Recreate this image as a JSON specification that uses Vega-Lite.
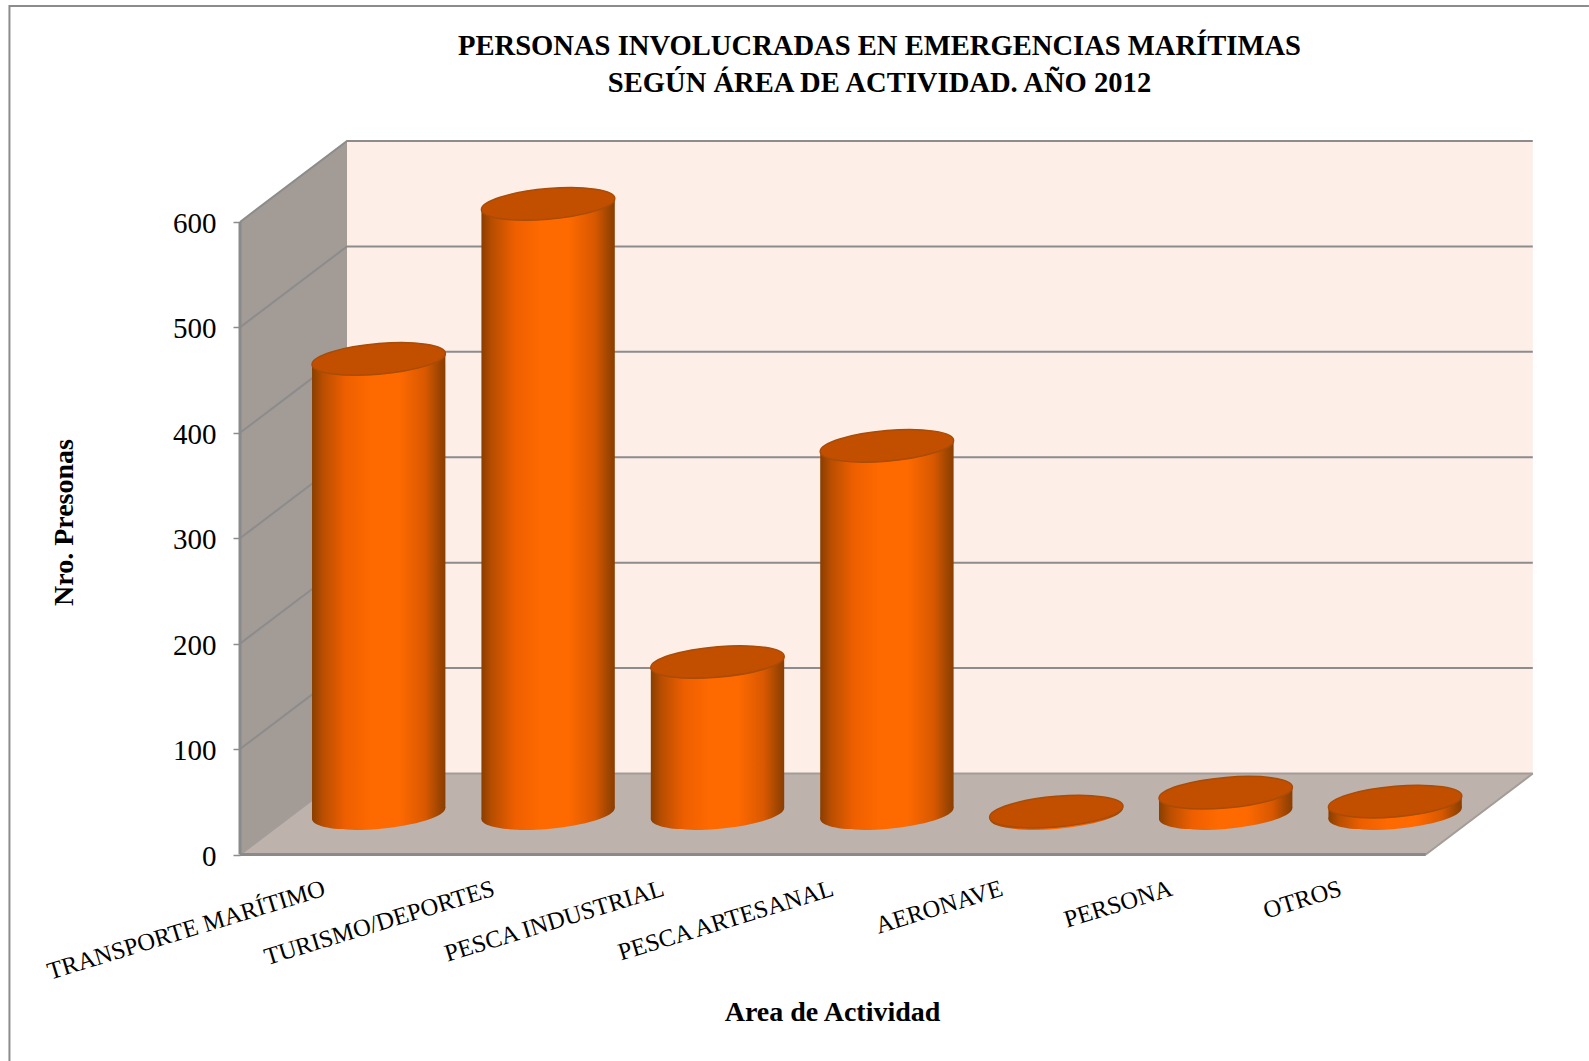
{
"$schema":"https://vega.github.io/schema/vega-lite/v6.json",
"width":1293,"height":713.5,"autosize":"none",
"padding":{"left":240,"top":141,"right":56,"bottom":206.5},
"background":"#ffffff",
"config":{"view":{"stroke":null},"font":"Liberation Serif"},
"title":{"text":["PERSONAS INVOLUCRADAS EN EMERGENCIAS MARÍTIMAS","SEGÚN ÁREA DE ACTIVIDAD. AÑO 2012"],"font":"Liberation Serif","fontSize":28.6,"fontWeight":"bold","color":"#000000","anchor":"middle","dx":-7,"offset":0,"dy":96,"lineHeight":37},
"datasets":{
"frame":[{"x":-1.361,"y":-196},{"x":-1.361,"y":804.9},{"x":7.963,"y":804.9}],
"back":[{"x":0.6316,"y":76.8,"y2":676.8},{"x":7.6316,"y":76.8,"y2":676.8}],
"side":[{"x":0,"y":0,"y2":600},{"x":0.6316,"y":76.8,"y2":676.8}],
"floor":[{"x":0,"y":0,"y2":0},{"x":0.6316,"y":0,"y2":76.8},{"x":7,"y":0,"y2":76.8},{"x":7.6316,"y":76.8,"y2":76.8}],
"grid":[
{"g":100,"x":0,"y":100},{"g":100,"x":0.6316,"y":176.8},{"g":100,"x":7.6316,"y":176.8},
{"g":200,"x":0,"y":200},{"g":200,"x":0.6316,"y":276.8},{"g":200,"x":7.6316,"y":276.8},
{"g":300,"x":0,"y":300},{"g":300,"x":0.6316,"y":376.8},{"g":300,"x":7.6316,"y":376.8},
{"g":400,"x":0,"y":400},{"g":400,"x":0.6316,"y":476.8},{"g":400,"x":7.6316,"y":476.8},
{"g":500,"x":0,"y":500},{"g":500,"x":0.6316,"y":576.8},{"g":500,"x":7.6316,"y":576.8},
{"g":600,"x":0,"y":600},{"g":600,"x":0.6316,"y":676.8},{"g":600,"x":7.6316,"y":676.8}],
"floorEdge":[{"g":"a","x":0,"y":0},{"g":"a","x":0.6316,"y":76.8},{"g":"a","x":7.6316,"y":76.8},{"g":"b","x":7,"y":0},{"g":"b","x":7.6316,"y":76.8}],
"axisFront":[{"g":"v","x":0,"y":600},{"g":"v","x":0,"y":0},{"g":"h","x":0,"y":0},{"g":"h","x":7,"y":0}],
"tops":[
{"cat":"TRANSPORTE MARÍTIMO","x":0.8188,"value":430.5,"y":470.1},
{"cat":"TURISMO/DEPORTES","x":1.8188,"value":577.5,"y":617.1},
{"cat":"PESCA INDUSTRIAL","x":2.8188,"value":143,"y":182.6},
{"cat":"PESCA ARTESANAL","x":3.8188,"value":348,"y":387.6},
{"cat":"AERONAVE","x":4.8188,"value":1,"y":40.6},
{"cat":"PERSONA","x":5.8188,"value":19,"y":58.6},
{"cat":"OTROS","x":6.8188,"value":10.6,"y":50.2}],
"bases":[
{"cat":"TRANSPORTE MARÍTIMO","x":0.8188,"y":38.8},
{"cat":"TURISMO/DEPORTES","x":1.8188,"y":38.8},
{"cat":"PESCA INDUSTRIAL","x":2.8188,"y":38.8},
{"cat":"PESCA ARTESANAL","x":3.8188,"y":38.8},
{"cat":"AERONAVE","x":4.8188,"y":38.8},
{"cat":"PERSONA","x":5.8188,"y":38.8},
{"cat":"OTROS","x":6.8188,"y":38.8}],
"body":[
{"cat":"TRANSPORTE MARÍTIMO","x":0.4251,"y":464.9,"y2":33.6},{"cat":"TRANSPORTE MARÍTIMO","x":1.2125,"y":475.3,"y2":44},
{"cat":"TURISMO/DEPORTES","x":1.4251,"y":611.9,"y2":33.6},{"cat":"TURISMO/DEPORTES","x":2.2125,"y":622.3,"y2":44},
{"cat":"PESCA INDUSTRIAL","x":2.4251,"y":177.4,"y2":33.6},{"cat":"PESCA INDUSTRIAL","x":3.2125,"y":187.8,"y2":44},
{"cat":"PESCA ARTESANAL","x":3.4251,"y":382.4,"y2":33.6},{"cat":"PESCA ARTESANAL","x":4.2125,"y":392.8,"y2":44},
{"cat":"AERONAVE","x":4.4251,"y":35.4,"y2":33.6},{"cat":"AERONAVE","x":5.2125,"y":45.8,"y2":44},
{"cat":"PERSONA","x":5.4251,"y":53.4,"y2":33.6},{"cat":"PERSONA","x":6.2125,"y":63.8,"y2":44},
{"cat":"OTROS","x":6.4251,"y":45,"y2":33.6},{"cat":"OTROS","x":7.2125,"y":55.4,"y2":44}]
},
"encoding":{
"x":{"field":"x","type":"quantitative","scale":{"domain":[0,7.6328],"nice":false,"zero":false},
"axis":{"title":"Area de Actividad","titleFont":"Liberation Serif","titleFontSize":28,"titleFontWeight":"bold","titleColor":"#000000","titleX":592,"titleY":158,"titleBaseline":"middle","values":[0.5,1.5,2.5,3.5,4.5,5.5,6.5],"labelExpr":"['TRANSPORTE MARÍTIMO','TURISMO/DEPORTES','PESCA INDUSTRIAL','PESCA ARTESANAL','AERONAVE','PERSONA','OTROS'][floor(datum.value)]","labelAngle":-17,"labelAlign":"right","labelBaseline":"top","labelPadding":22,"labelOffset":-4,"labelFont":"Liberation Serif","labelFontSize":24.5,"labelColor":"#000000","labelLimit":600,"labelOverlap":false,"labelFlush":false,"labelBound":false,"ticks":false,"domain":false,"grid":false}},
"y":{"field":"y","type":"quantitative","scale":{"domain":[0,676.8],"nice":false,"zero":false},
"axis":{"title":"Nro. Presonas","titleFont":"Liberation Serif","titleFontSize":28,"titleFontWeight":"bold","titleColor":"#000000","titleX":-176,"titleY":381,"titleAngle":-90,"titleBaseline":"middle","values":[0,100,200,300,400,500,600],"format":"d","labelFont":"Liberation Serif","labelFontSize":29,"labelColor":"#000000","labelPadding":17,"labelOffset":1.5,"tickSize":7,"tickColor":"#8c8c8c","tickWidth":1.5,"domain":false,"grid":false}}
},
"layer":[
{"data":{"name":"frame"},"mark":{"type":"line","color":"#8c8c8c","strokeWidth":2,"clip":false}},
{"data":{"name":"back"},"mark":{"type":"area","fill":"#fdeee7"},"encoding":{"y2":{"field":"y2"}}},
{"data":{"name":"side"},"mark":{"type":"area","fill":"#a39b96"},"encoding":{"y2":{"field":"y2"}}},
{"data":{"name":"floor"},"mark":{"type":"area","fill":"#beb2ad"},"encoding":{"y2":{"field":"y2"}}},
{"data":{"name":"grid"},"mark":{"type":"line","color":"#8c8c8c","strokeWidth":2},"encoding":{"detail":{"field":"g"}}},
{"data":{"name":"floorEdge"},"mark":{"type":"line","color":"#a39c98","strokeWidth":2},"encoding":{"detail":{"field":"g"}}},
{"data":{"name":"axisFront"},"mark":{"type":"line","color":"#8a8a8a","strokeWidth":3},"encoding":{"detail":{"field":"g"}}},
{"data":{"name":"bases"},"mark":{"type":"point","filled":true,"opacity":1,"size":17796,"shape":"M1,-0.0825 C1,0.0445 0.552,0.184 0,0.23 C-0.552,0.276 -1,0.2095 -1,0.0825 C-1,-0.0445 -0.552,-0.184 0,-0.23 C0.552,-0.276 1,-0.2095 1,-0.0825 Z","fill":{"gradient":"linear","x1":0,"y1":0,"x2":1,"y2":0,"stops":[{"offset":0,"color":"#8a3e00"},{"offset":0.08,"color":"#b84e00"},{"offset":0.25,"color":"#ee5f00"},{"offset":0.45,"color":"#ff6a00"},{"offset":0.65,"color":"#ff6a00"},{"offset":0.85,"color":"#d85800"},{"offset":0.95,"color":"#a04600"},{"offset":1,"color":"#8a3e00"}]},"stroke":null}},
{"data":{"name":"body"},"mark":{"type":"area","fill":{"gradient":"linear","x1":0,"y1":0,"x2":1,"y2":0,"stops":[{"offset":0,"color":"#8a3e00"},{"offset":0.08,"color":"#b84e00"},{"offset":0.25,"color":"#ee5f00"},{"offset":0.45,"color":"#ff6a00"},{"offset":0.65,"color":"#ff6a00"},{"offset":0.85,"color":"#d85800"},{"offset":0.95,"color":"#a04600"},{"offset":1,"color":"#8a3e00"}]}},"encoding":{"y2":{"field":"y2"},"detail":{"field":"cat"}}},
{"data":{"name":"tops"},"mark":{"type":"point","filled":true,"opacity":1,"size":17796,"shape":"M1,-0.0825 C1,0.0445 0.552,0.184 0,0.23 C-0.552,0.276 -1,0.2095 -1,0.0825 C-1,-0.0445 -0.552,-0.184 0,-0.23 C0.552,-0.276 1,-0.2095 1,-0.0825 Z","fill":"#c24e00","stroke":"#a84c08","strokeWidth":1.5}}
]
}
